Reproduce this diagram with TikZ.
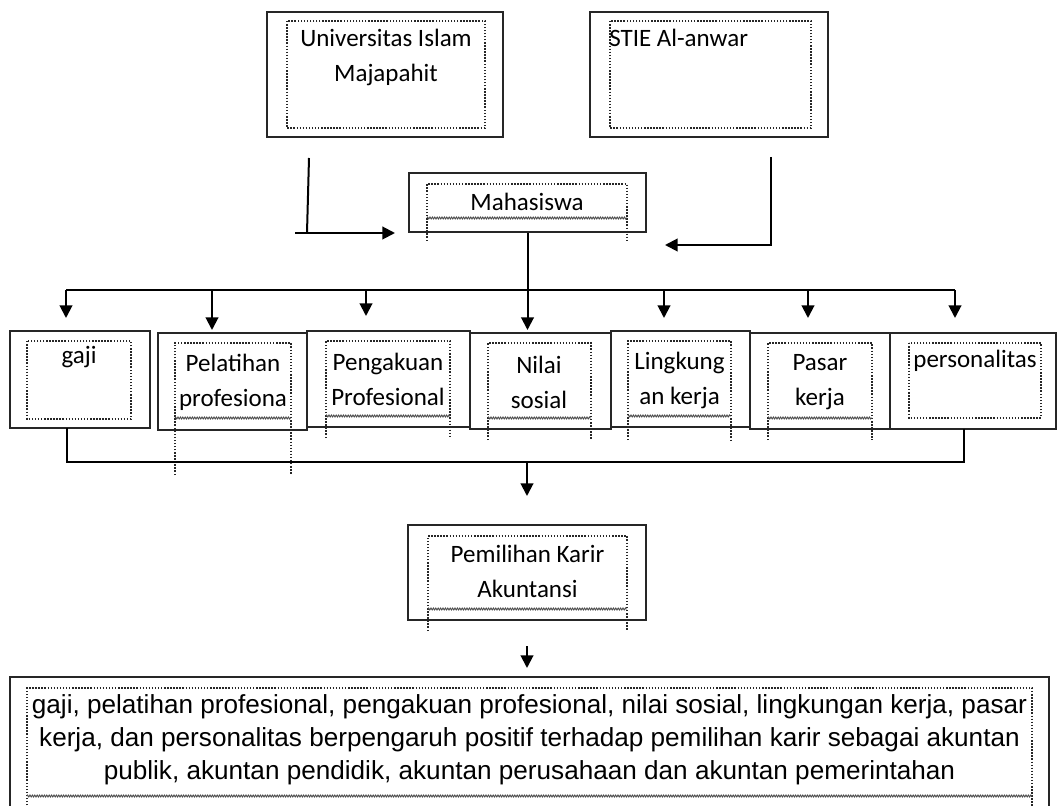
\documentclass[tikz,border=0pt]{standalone}
\usepackage{fontspec}
\usetikzlibrary{arrows.meta,decorations.pathmorphing,fit}
\newfontfamily\cfont{Carlito}
\newfontfamily\afont{Liberation Sans}
\newcommand{\wavybox}[5]{%
  \draw[dots] (#1,#5) -- (#1,#2) -- (#3,#2) -- (#3,#5);
  \draw[wavy] (#1,#4) -- (#3,#4);}
\begin{document}
\begin{tikzpicture}[x=0.75pt,y=-0.75pt,
  box/.style={draw=black!85, line width=1.5pt, inner sep=0pt},
  dots/.style={draw=black!85, line width=1.1pt, dash pattern=on 1.1pt off 1.2pt},
  wavy/.style={draw=black!70, line width=0.7pt, decorate,
    decoration={zigzag, amplitude=0.7pt, segment length=1.8pt}},
  conn/.style={draw=black, line width=1.5pt},
  arr/.style={conn, -{Triangle[length=9.5pt,width=9.5pt]}},
  lbl/.style={font=\cfont\fontsize{18.75}{26.25}\selectfont, align=center, inner sep=0pt, text=black},
  btxt/.style={font=\afont\fontsize{19.6}{24.75}\selectfont, align=center, inner sep=0pt, text=black},
]
\useasboundingbox (0,0) rectangle (1058,806);
\begin{scope}
\clip (0,0) rectangle (1058,806);
% top boxes
\node[box, fit={(267,12) (503,137)}] (uim) {};
\draw[dots] (287,21) rectangle (485,128);
\node[lbl] (uimt) at (386,57) {Universitas Islam\\Majapahit};

\node[box, fit={(590,12) (828,137)}] (stie) {};
\draw[dots] (610,21) rectangle (811,128);
\node[lbl, anchor=west] (stiet) at (609,38) {STIE Al-anwar};

% Mahasiswa
\node[box, fit={(409,173) (646,232)}] (mah) {};
\wavybox{427}{184}{627}{218}{241}
\node[lbl] (maht) at (527,202) {Mahasiswa};

% row of factors
\node[box, fit={(9.5,331) (150,428)}] (gaji) {};
\draw[dots] (27,341) rectangle (131,419);
\node[lbl] (gajit) at (79,357) {gaji};

\node[box, fit={(158,333) (307,430)}] (pel) {};
\wavybox{175}{343}{291}{418}{475}
\node[lbl] (pelt) at (233,382) {Pelatihan\\profesiona};

\node[box, fit={(307,331) (470,427)}] (peng) {};
\wavybox{326}{341}{450}{416}{438}
\node[lbl] (pengt) at (388,379) {Pengakuan\\Profesional};

\node[box, fit={(470,333) (611,429)}] (nil) {};
\wavybox{488}{343}{591}{418}{440}
\node[lbl] (nilt) at (539,382) {Nilai\\sosial};

\node[box, fit={(611,331) (750,427)}] (ling) {};
\wavybox{628}{341}{731}{416}{440}
\node[lbl] (lingt) at (679.5,380) {Lingkung\\an kerja};

\node[box, fit={(750,333) (890,429)}] (pasar) {};
\wavybox{768}{343}{872}{418}{440}
\node[lbl] (pasart) at (820,382) {Pasar\\kerja};

\node[box, fit={(890,333) (1056,429)}] (pers) {};
\draw[dots] (909,343) rectangle (1041,418);
\node[lbl] (perst) at (975,361) {personalitas};

% Pemilihan Karir
\node[box, fit={(408,525) (646,620)}] (pem) {};
\wavybox{428}{536}{627}{609}{631}
\node[lbl] (pemt) at (527.5,571) {Pemilihan Karir\\Akuntansi};

% bottom conclusion
\node[box, fit={(9.5,677) (1048.5,830)}] (hasil) {};
\wavybox{27}{688}{1032}{796}{830}
\node[btxt] (hasilt) at (529.5,740) {gaji, pelatihan profesional, pengakuan profesional, nilai sosial, lingkungan kerja, pasar\\kerja, dan personalitas berpengaruh positif terhadap pemilihan karir sebagai akuntan\\publik, akuntan pendidik, akuntan perusahaan dan akuntan pemerintahan};

% connectors top
\coordinate (l1) at (309,158);
\coordinate (l2) at (307,233);
\coordinate (l0) at (295,233);
\coordinate (lt) at (395,233);
\draw[conn] (l1) -- (l2);
\draw[arr] (l0) -- (lt);

\coordinate (r1) at (771,157);
\coordinate (r2) at (771,245);
\coordinate (rt) at (665,245);
\draw[arr] (r1) -- (r2) -- (rt);

% distributor
\coordinate (dL) at (66,290);
\coordinate (dR) at (955,290);
\draw[conn] (dL) -- (dR);
\draw[arr] (mah.south) -- (527.5,330);
\draw[arr] (dL) -- (66,318);
\draw[arr] (212,290) -- (212,330);
\draw[arr] (366,290) -- (366,316);
\draw[arr] (664,290) -- (664,318);
\draw[arr] (808,290) -- (808,318);
\draw[arr] (dR) -- (955,318);

% collector
\coordinate (c1) at (67,428);
\coordinate (c2) at (964,429);
\draw[conn] (c1) -- (67,462) -- (964,462) -- (c2);
\draw[arr] (527,462) -- (527,496);
\draw[arr] (pem.south -| 527,0) ++(0,25) -- (527,668);
\end{scope}
\end{tikzpicture}
\end{document}
